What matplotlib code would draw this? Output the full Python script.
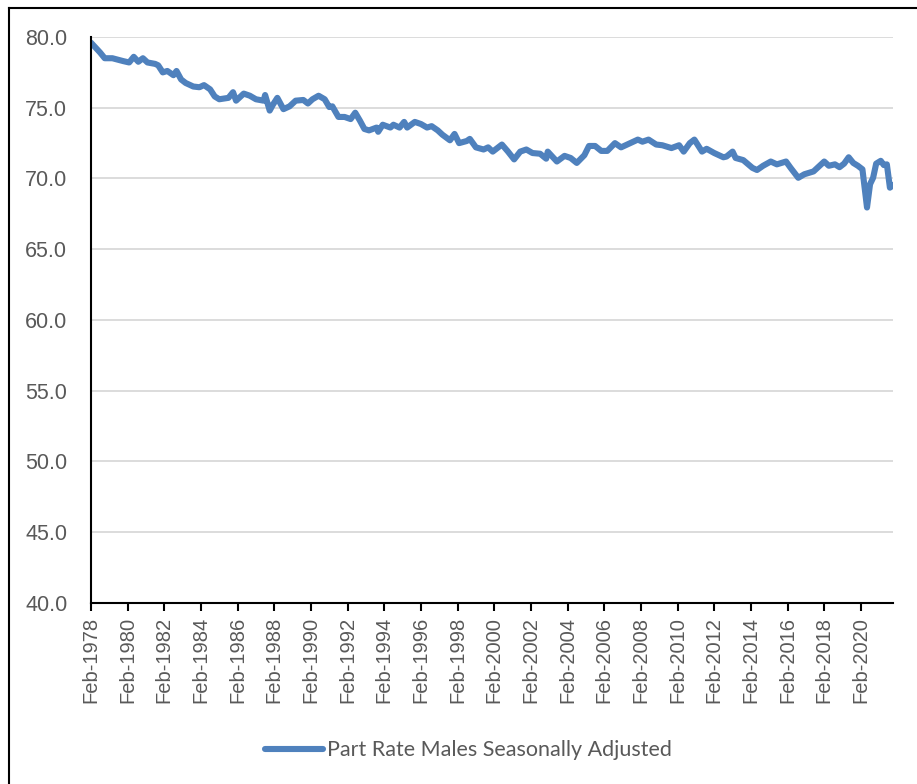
import matplotlib
matplotlib.use("Agg")
import matplotlib.pyplot as plt
import pandas as pd
from matplotlib.lines import Line2D

# Participation rate, males, seasonally adjusted
months = [
    "1978-02", "1978-08", "1978-11", "1979-04", "1979-11", "1980-03", "1980-06", "1980-09",
    "1980-12", "1981-03", "1981-08", "1981-10", "1982-01", "1982-04", "1982-08", "1982-10",
    "1983-01", "1983-04", "1983-09", "1984-01", "1984-04", "1984-08", "1984-11", "1985-02",
    "1985-08", "1985-11", "1986-01", "1986-06", "1986-10", "1987-02", "1987-07", "1987-08",
    "1987-11", "1988-01", "1988-04", "1988-08", "1988-12", "1989-04", "1989-09", "1989-12",
    "1990-03", "1990-07", "1990-11", "1991-02", "1991-04", "1991-08", "1991-12", "1992-04",
    "1992-07", "1992-10", "1993-01", "1993-04", "1993-09", "1993-10", "1994-01", "1994-06",
    "1994-08", "1994-12", "1995-03", "1995-05", "1995-10", "1996-02", "1996-06", "1996-09",
    "1997-01", "1997-04", "1997-09", "1997-12", "1998-03", "1998-08", "1998-10", "1999-02",
    "1999-07", "1999-10", "2000-01", "2000-07", "2000-11", "2001-03", "2001-07", "2001-11",
    "2002-03", "2002-08", "2002-12", "2003-01", "2003-07", "2003-12", "2004-04", "2004-08",
    "2005-01", "2005-04", "2005-08", "2005-12", "2006-04", "2006-09", "2007-01", "2007-07",
    "2007-12", "2008-03", "2008-07", "2008-12", "2009-04", "2009-10", "2010-03", "2010-06",
    "2010-10", "2011-01", "2011-06", "2011-09", "2012-02", "2012-08", "2012-10", "2013-02",
    "2013-04", "2013-09", "2014-03", "2014-06", "2014-10", "2015-03", "2015-07", "2016-01",
    "2016-04", "2016-09", "2017-01", "2017-07", "2017-11", "2018-02", "2018-05", "2018-09",
    "2018-12", "2019-03", "2019-06", "2019-09", "2019-12", "2020-03", "2020-06", "2020-08",
    "2020-10", "2020-12", "2021-03", "2021-05", "2021-07", "2021-09", "2021-11",
]
values = [
    79.6, 78.9, 78.5, 78.5, 78.3, 78.2, 78.6, 78.25,
    78.5, 78.2, 78.1, 78.0, 77.5, 77.6, 77.3, 77.6,
    77.0, 76.75, 76.5, 76.45, 76.6, 76.3, 75.8, 75.6,
    75.7, 76.1, 75.5, 76.0, 75.85, 75.6, 75.5, 75.9,
    74.8, 75.2, 75.7, 74.9, 75.1, 75.5, 75.55, 75.3,
    75.6, 75.85, 75.6, 75.05, 75.1, 74.35, 74.35, 74.2,
    74.65, 74.1, 73.5, 73.4, 73.6, 73.3, 73.8, 73.6,
    73.8, 73.6, 74.0, 73.6, 74.0, 73.85, 73.6, 73.7,
    73.4, 73.1, 72.7, 73.15, 72.5, 72.65, 72.8, 72.2,
    72.05, 72.2, 71.9, 72.4, 71.9, 71.35, 71.9, 72.05,
    71.8, 71.75, 71.4, 71.9, 71.2, 71.6, 71.45, 71.1,
    71.65, 72.3, 72.3, 71.95, 71.95, 72.5, 72.2, 72.5,
    72.75, 72.6, 72.75, 72.4, 72.35, 72.15, 72.35, 71.9,
    72.5, 72.75, 71.9, 72.1, 71.8, 71.5, 71.55, 71.9,
    71.45, 71.3, 70.75, 70.6, 70.9, 71.2, 71.0, 71.2,
    70.75, 70.05, 70.3, 70.5, 70.9, 71.2, 70.9, 71.0,
    70.8, 71.05, 71.5, 71.1, 70.9, 70.65, 67.95, 69.6,
    70.05, 71.05, 71.25, 70.95, 71.0, 69.35, 69.55,
]
tick_years = list(range(1978, 2021, 2))
series_name = "Part Rate Males Seasonally Adjusted"

dates = pd.to_datetime(months, format="%Y-%m")
x = (dates.year - 1978) * 12 + (dates.month - 2)

fig = plt.figure(figsize=(9.17, 7.84), dpi=100)
ax = fig.add_axes([0.0992, 0.2309, 0.9738 - 0.0992, 0.9528 - 0.2309])

ax.plot(x, values, color="#4F81BD", lw=4.4, solid_joinstyle="round",
        solid_capstyle="round", label=series_name)

ax.set_xlim(0, 525)
ax.set_ylim(40, 80)
ax.set_yticks(range(40, 81, 5))
ax.set_yticklabels([f"{v:.1f}" for v in range(40, 81, 5)])
ax.set_xticks([(y - 1978) * 12 for y in tick_years])
ax.set_xticklabels([f"Feb-{y}" for y in tick_years], rotation=90)

ax.grid(axis="y", color="#D9D9D9", lw=1.3)
ax.set_axisbelow(True)
for s in ["top", "right"]:
    ax.spines[s].set_visible(False)
for s in ["left", "bottom"]:
    ax.spines[s].set_color("black")
    ax.spines[s].set_linewidth(1.5)

ax.tick_params(axis="y", length=0, pad=17, labelsize=15.5, labelcolor="#595959")
ax.tick_params(axis="x", length=6, width=1.5, pad=4, labelsize=14.5, labelcolor="#595959")
for lab in ax.get_xticklabels() + ax.get_yticklabels():
    lab.set_family("Liberation Sans")

leg = fig.legend(loc="center", bbox_to_anchor=(0.511, 0.043), frameon=False,
                 handlelength=2.7, handletextpad=0.2,
                 prop={"family": "Lato", "size": 15.5})
for t in leg.get_texts():
    t.set_color("#595959")

# outer chart border (left and top edges visible)
fig.add_artist(Line2D([8.5 / 917, 8.5 / 917], [0, 1 - 8 / 784], transform=fig.transFigure,
                      color="black", lw=1.5))
fig.add_artist(Line2D([8.5 / 917, 1], [1 - 8 / 784, 1 - 8 / 784], transform=fig.transFigure,
                      color="black", lw=1.5))

fig.savefig("out.png", dpi=100)
